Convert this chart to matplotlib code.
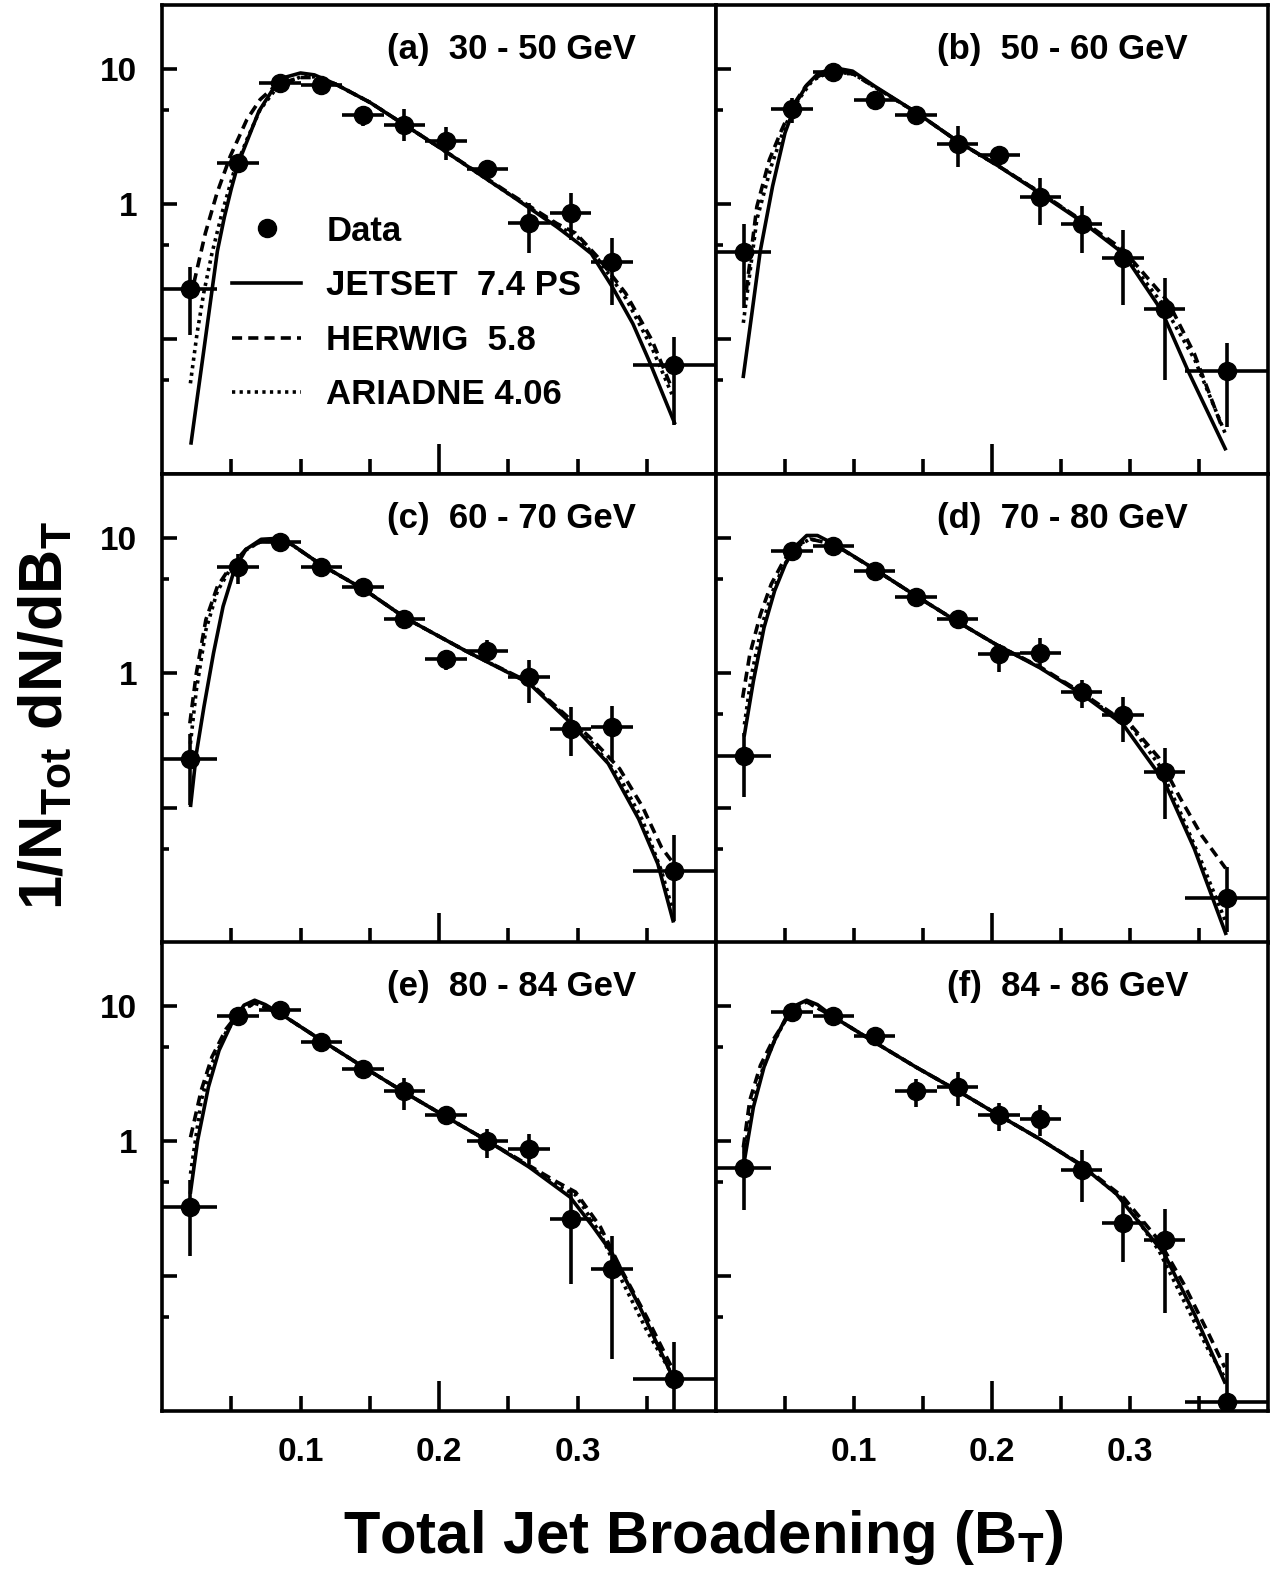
import numpy as np
import matplotlib
matplotlib.use('Agg')
import matplotlib.pyplot as plt
from matplotlib.lines import Line2D
from matplotlib.ticker import FixedLocator, FixedFormatter, NullFormatter

plt.rcParams['font.family'] = ['Liberation Sans', 'DejaVu Sans']
plt.rcParams['font.weight'] = 'bold'
plt.rcParams['mathtext.fontset'] = 'custom'
plt.rcParams['mathtext.rm'] = 'Liberation Sans:bold'
plt.rcParams['mathtext.it'] = 'Liberation Sans:bold'
plt.rcParams['mathtext.bf'] = 'Liberation Sans:bold'

# bin centres / half widths of B_T
bt_centres = [0.02, 0.055, 0.085, 0.115, 0.145, 0.175, 0.205, 0.235, 0.265, 0.295, 0.325, 0.37]
bt_half = [0.02, 0.015, 0.015, 0.015, 0.015, 0.015, 0.015, 0.015, 0.015, 0.015, 0.015, 0.03]

titles = ['(a)  30 - 50 GeV', '(b)  50 - 60 GeV', '(c)  60 - 70 GeV',
          '(d)  70 - 80 GeV', '(e)  80 - 84 GeV', '(f)  84 - 86 GeV']

# ---- (a) 30-50 GeV
a_data = [0.235, 2.02, 7.96, 7.7, 4.55, 3.9, 2.93, 1.84, 0.73, 0.86, 0.376, 0.064]
a_lo = [0.107, 1.8, 7.3, 7.1, 3.79, 2.93, 2.14, 1.57, 0.435, 0.545, 0.179, 0.023]
a_hi = [0.345, 2.3, 8.7, 8.3, 5.33, 5.04, 3.71, 2.14, 1.03, 1.22, 0.563, 0.104]
a_jet_x = [0.021, 0.025, 0.030, 0.035, 0.040, 0.045, 0.050, 0.055, 0.060, 0.070, 0.080, 0.090, 0.100,
           0.110, 0.125, 0.150, 0.200, 0.250, 0.285, 0.300, 0.310, 0.325, 0.340, 0.352, 0.370]
a_jet = [0.017, 0.034, 0.080, 0.19, 0.45, 0.80, 1.3, 2.0, 2.7, 4.9, 7.1, 8.8, 9.4,
         9.1, 7.8, 5.7, 2.65, 1.2, 0.68, 0.52, 0.43, 0.245, 0.13, 0.068, 0.024]
a_her_x = [0.023, 0.0313, 0.0397, 0.0493, 0.0613, 0.0709, 0.0829, 0.0996, 0.110, 0.125, 0.150,
           0.200, 0.250, 0.285, 0.2987, 0.3142, 0.3347, 0.3538, 0.3682]
a_her = [0.26, 0.61, 1.21, 2.27, 4.25, 5.98, 7.73, 8.7, 8.7, 7.8, 5.7,
         2.65, 1.22, 0.72, 0.61, 0.41, 0.219, 0.098, 0.043]
a_ari_x = [0.0205, 0.0253, 0.0301, 0.0361, 0.0433, 0.0517, 0.0613, 0.0709, 0.0829, 0.100, 0.110,
           0.125, 0.150, 0.200, 0.250, 0.285, 0.300, 0.315, 0.335, 0.354, 0.3682]
a_ari = [0.047, 0.110, 0.219, 0.434, 0.86, 1.71, 3.02, 5.04, 7.3, 8.8, 8.8,
         7.8, 5.7, 2.65, 1.2, 0.70, 0.57, 0.39, 0.2, 0.085, 0.039]

# ---- (b) 50-60 GeV
b_data = [0.445, 5.05, 9.55, 5.92, 4.57, 2.82, 2.30, 1.13, 0.713, 0.398, 0.167, 0.0578]
b_lo = [0.169, 4.0, 8.6, 5.4, 3.9, 1.88, 1.95, 0.70, 0.433, 0.179, 0.0496, 0.0223]
b_hi = [0.716, 6.15, 10.5, 6.5, 5.3, 3.79, 2.7, 1.57, 0.975, 0.64, 0.286, 0.093]
b_jet_x = [0.0198, 0.026, 0.032, 0.041, 0.050, 0.058, 0.066, 0.0735, 0.085, 0.099, 0.115, 0.145,
           0.175, 0.205, 0.2345, 0.265, 0.295, 0.3227, 0.3418, 0.369]
b_jet = [0.053, 0.155, 0.445, 1.36, 3.38, 5.65, 7.7, 9.2, 10.3, 9.7, 7.5, 4.8,
         2.93, 1.91, 1.21, 0.745, 0.433, 0.164, 0.059, 0.0154]
b_her_x = [0.022, 0.0296, 0.0387, 0.0477, 0.0554, 0.065, 0.075, 0.085, 0.099, 0.115, 0.145,
           0.175, 0.205, 0.235, 0.265, 0.295, 0.3275, 0.3466, 0.3657]
b_her = [0.231, 0.96, 2.14, 3.58, 5.33, 7.5, 9.0, 9.3, 9.3, 7.4, 4.8,
         2.93, 1.91, 1.22, 0.76, 0.46, 0.19, 0.078, 0.0236]
b_ari_x = [0.0198, 0.0296, 0.040, 0.050, 0.060, 0.070, 0.080, 0.090, 0.100, 0.115, 0.145,
           0.175, 0.205, 0.235, 0.265, 0.295, 0.325, 0.347, 0.369]
b_ari = [0.132, 0.77, 1.91, 3.8, 6.0, 8.3, 9.3, 9.5, 9.2, 7.4, 4.8,
         2.93, 1.91, 1.22, 0.75, 0.44, 0.174, 0.07, 0.02]

# ---- (c) 60-70 GeV
c_data = [0.23, 6.15, 9.44, 6.15, 4.36, 2.54, 1.28, 1.45, 0.933, 0.383, 0.401, 0.034]
c_lo = [0.105, 4.62, 8.7, 5.7, 4.0, 2.35, 1.05, 1.19, 0.605, 0.243, 0.226, 0.0146]
c_hi = [0.357, 7.6, 10.2, 6.6, 4.8, 2.75, 1.49, 1.77, 1.26, 0.565, 0.571, 0.0627]
c_jet_x = [0.0207, 0.0248, 0.0303, 0.0372, 0.0441, 0.0523, 0.0606, 0.0716, 0.0798, 0.0936, 0.1156,
           0.146, 0.1757, 0.220, 0.265, 0.2954, 0.3222, 0.3442, 0.358, 0.369]
c_jet = [0.105, 0.254, 0.565, 1.41, 3.13, 5.87, 8.28, 9.84, 9.95, 9.02, 6.3,
         4.17, 2.57, 1.45, 0.843, 0.425, 0.214, 0.083, 0.0386, 0.0146]
c_her_x = [0.0201, 0.0248, 0.0317, 0.040, 0.0496, 0.0606, 0.0716, 0.085, 0.0936, 0.1156, 0.146,
           0.1757, 0.220, 0.265, 0.2954, 0.3111, 0.3304, 0.347, 0.3607, 0.3676]
c_her = [0.425, 1.0, 2.5, 4.4, 6.2, 8.3, 9.5, 9.5, 9.0, 6.3, 4.17,
         2.57, 1.45, 0.86, 0.45, 0.319, 0.196, 0.102, 0.051, 0.041]
c_ari_x = [0.0205, 0.0248, 0.0317, 0.040, 0.0496, 0.0606, 0.0716, 0.085, 0.0936, 0.1156, 0.146,
           0.1757, 0.220, 0.265, 0.2954, 0.3111, 0.3304, 0.347, 0.3607, 0.3684]
c_ari = [0.30, 0.75, 2.1, 4.06, 6.0, 8.2, 9.5, 9.5, 9.0, 6.3, 4.17,
         2.57, 1.45, 0.85, 0.44, 0.30, 0.17, 0.081, 0.034, 0.018]

# ---- (d) 70-80 GeV
d_data = [0.242, 8.09, 8.82, 5.75, 3.68, 2.51, 1.38, 1.42, 0.728, 0.494, 0.184, 0.0217]
d_lo = [0.12, 7.5, 8.2, 5.3, 3.4, 2.3, 1.03, 1.10, 0.553, 0.31, 0.083, 0.0121]
d_hi = [0.361, 8.7, 9.5, 6.2, 4.0, 2.75, 1.64, 1.84, 0.885, 0.665, 0.279, 0.0368]
d_jet_x = [0.0206, 0.0271, 0.0348, 0.0425, 0.0503, 0.058, 0.0657, 0.0735, 0.0856, 0.1147, 0.1448,
           0.1747, 0.2049, 0.2345, 0.2647, 0.295, 0.3247, 0.3466, 0.3693]
d_jet = [0.35, 0.875, 2.18, 4.09, 6.44, 8.82, 10.5, 10.5, 9.07, 5.92, 3.75,
         2.42, 1.59, 1.10, 0.705, 0.417, 0.158, 0.05, 0.0118]
d_her_x = [0.0193, 0.0245, 0.0322, 0.040, 0.049, 0.058, 0.068, 0.0856, 0.1147, 0.1448, 0.1747,
           0.2049, 0.2345, 0.2647, 0.2875, 0.3003, 0.3209, 0.3363, 0.3518, 0.3693]
d_her = [0.658, 1.38, 2.73, 4.57, 6.82, 8.8, 9.9, 9.0, 5.92, 3.75, 2.42,
         1.59, 1.12, 0.72, 0.50, 0.417, 0.236, 0.119, 0.063, 0.0358]
d_ari_x = [0.0206, 0.0258, 0.0335, 0.0412, 0.049, 0.058, 0.068, 0.0856, 0.1147, 0.1448, 0.1747,
           0.2049, 0.2345, 0.2647, 0.2875, 0.3003, 0.3209, 0.3363, 0.3518, 0.3693]
d_ari = [0.417, 0.98, 2.31, 4.09, 6.27, 8.57, 9.9, 9.0, 5.92, 3.75, 2.42,
         1.59, 1.11, 0.71, 0.49, 0.41, 0.21, 0.094, 0.040, 0.0144]

# ---- (e) 80-84 GeV
e_data = [0.325, 8.43, 9.45, 5.44, 3.45, 2.34, 1.56, 1.0, 0.88, 0.266, 0.113, 0.0173]
e_lo = [0.14, 7.8, 8.8, 4.6, 3.2, 1.71, 1.45, 0.755, 0.68, 0.0877, 0.0244, 0.0095]
e_hi = [0.513, 9.1, 10.1, 6.0, 3.7, 2.96, 1.68, 1.24, 1.14, 0.431, 0.2, 0.0324]
e_jet_x = [0.0206, 0.0257, 0.0335, 0.0412, 0.0502, 0.0592, 0.0669, 0.0746, 0.0855, 0.1151, 0.1454,
           0.1758, 0.2054, 0.2355, 0.2651, 0.2947, 0.3114, 0.3251, 0.345, 0.3676]
e_jet = [0.42, 1.01, 2.52, 4.72, 7.43, 10.2, 11.1, 10.3, 8.83, 5.6, 3.55,
         2.28, 1.51, 1.0, 0.643, 0.385, 0.231, 0.147, 0.059, 0.0189]
e_her_x = [0.0206, 0.0283, 0.036, 0.0463, 0.0566, 0.0669, 0.0855, 0.1151, 0.1454, 0.1758, 0.2054,
           0.2355, 0.2651, 0.2850, 0.2986, 0.3166, 0.332, 0.350, 0.368]
e_her = [1.07, 2.38, 4.2, 6.8, 9.3, 10.6, 8.83, 5.6, 3.55, 2.28, 1.51,
         1.0, 0.66, 0.50, 0.42, 0.231, 0.110, 0.0497, 0.0211]
e_ari_x = [0.0206, 0.0283, 0.036, 0.0463, 0.0566, 0.0669, 0.0855, 0.1151, 0.1454, 0.1758, 0.2054,
           0.2355, 0.2651, 0.2850, 0.2986, 0.3166, 0.332, 0.350, 0.368]
e_ari = [0.574, 2.0, 3.76, 6.46, 9.08, 10.6, 8.83, 5.6, 3.55, 2.28, 1.51,
         1.0, 0.65, 0.47, 0.40, 0.206, 0.093, 0.0395, 0.0189]

# ---- (f) 84-86 GeV
f_data = [0.635, 9.08, 8.43, 5.99, 2.35, 2.52, 1.56, 1.47, 0.615, 0.247, 0.186, 0.0117]
f_lo = [0.31, 8.4, 7.8, 5.5, 1.79, 1.81, 1.19, 1.10, 0.354, 0.127, 0.0532, 0.0095]
f_hi = [0.906, 9.8, 9.1, 6.5, 2.91, 3.26, 1.92, 1.85, 0.855, 0.364, 0.315, 0.0269]
f_jet_x = [0.0206, 0.0271, 0.0348, 0.0425, 0.0503, 0.058, 0.0657, 0.0735, 0.0856, 0.1147, 0.1448,
           0.1747, 0.2049, 0.2345, 0.2647, 0.29, 0.3054, 0.3247, 0.3466, 0.3686]
f_jet = [0.72, 1.79, 3.55, 5.6, 8.1, 10.2, 11.1, 10.3, 8.3, 5.44, 3.55,
         2.38, 1.56, 1.04, 0.662, 0.408, 0.259, 0.147, 0.0526, 0.0164]
f_her_x = [0.0198, 0.0245, 0.0322, 0.0412, 0.0503, 0.058, 0.0657, 0.0856, 0.1147, 0.1448, 0.1747,
           0.2049, 0.2345, 0.2647, 0.2951, 0.3209, 0.3389, 0.357, 0.3686]
f_her = [0.9, 2.01, 3.65, 5.6, 7.87, 9.9, 10.8, 8.3, 5.44, 3.55, 2.38,
         1.56, 1.04, 0.67, 0.385, 0.184, 0.0877, 0.0373, 0.0211]
f_ari_x = [0.0206, 0.0258, 0.0335, 0.0419, 0.0503, 0.058, 0.0657, 0.0856, 0.1147, 0.1448, 0.1747,
           0.2049, 0.2345, 0.2647, 0.2951, 0.3209, 0.3389, 0.357, 0.3686]
f_ari = [0.81, 1.79, 3.35, 5.43, 7.95, 9.9, 10.8, 8.3, 5.44, 3.55, 2.38,
         1.56, 1.04, 0.665, 0.37, 0.155, 0.066, 0.0281, 0.0178]

panels = [
    (a_data, a_lo, a_hi, a_jet_x, a_jet, a_her_x, a_her, a_ari_x, a_ari),
    (b_data, b_lo, b_hi, b_jet_x, b_jet, b_her_x, b_her, b_ari_x, b_ari),
    (c_data, c_lo, c_hi, c_jet_x, c_jet, c_her_x, c_her, c_ari_x, c_ari),
    (d_data, d_lo, d_hi, d_jet_x, d_jet, d_her_x, d_her, d_ari_x, d_ari),
    (e_data, e_lo, e_hi, e_jet_x, e_jet, e_her_x, e_her, e_ari_x, e_ari),
    (f_data, f_lo, f_hi, f_jet_x, f_jet, f_her_x, f_her, f_ari_x, f_ari),
]

LW = 2.6
MS = 13
DASHED = (0, (2.8, 1.7))
DOTTED = (0, (0.9, 1.2))

W, H = 1272, 1572
fig = plt.figure(figsize=(W / 100, H / 100), dpi=100)

col_left = [162, 716]
col_width = [554, 552]
row_top = [5, 474, 942]
row_h = 469


def style_axes(ax, col, row):
    ax.set_yscale('log')
    ax.set_xlim(0, 0.4)
    ax.set_ylim(0.01, 30)
    for sp in ax.spines.values():
        sp.set_linewidth(LW)
    # y ticks: decades long, the 5's short
    ax.yaxis.set_major_locator(FixedLocator([0.1, 1, 10]))
    ax.yaxis.set_minor_locator(FixedLocator([0.05, 0.5, 5]))
    ax.yaxis.set_minor_formatter(NullFormatter())
    ax.yaxis.set_major_formatter(FixedFormatter(['', '1', '10'] if col == 0 else ['', '', '']))
    # x ticks: only 0.2 is long, everything else short
    ax.xaxis.set_major_locator(FixedLocator([0.2]))
    ax.xaxis.set_minor_locator(FixedLocator([0.05, 0.1, 0.15, 0.25, 0.3, 0.35]))
    if row == 2:
        ax.xaxis.set_major_formatter(FixedFormatter(['0.2']))
        ax.xaxis.set_minor_formatter(FixedFormatter(['', '0.1', '', '', '0.3', '']))
    else:
        ax.xaxis.set_major_formatter(NullFormatter())
        ax.xaxis.set_minor_formatter(NullFormatter())
    ax.tick_params(which='both', direction='in', width=LW, top=False, right=False,
                   labelsize=24)
    ax.tick_params(axis='y', which='major', length=10.8, pad=18)
    ax.tick_params(axis='y', which='minor', length=5.2)
    ax.tick_params(axis='x', which='major', length=21.6, pad=19)
    ax.tick_params(axis='x', which='minor', length=10.8, pad=19)


axes = []
for i, (dat, lo, hi, jx, jy, hx, hy, ax_, ay) in enumerate(panels):
    row, col = divmod(i, 2)
    left = col_left[col] / W
    bottom = 1 - (row_top[row] + row_h) / H
    ax = fig.add_axes([left, bottom, col_width[col] / W, row_h / H])
    style_axes(ax, col, row)

    ax.plot(jx, jy, '-', color='black', lw=LW, zorder=2)
    ax.plot(hx, hy, color='black', lw=LW, linestyle=DASHED, zorder=2)
    ax.plot(ax_, ay, color='black', lw=LW, linestyle=DOTTED, zorder=2)

    y = np.array(dat)
    yerr = [y - np.array(lo), np.array(hi) - y]
    ax.errorbar(bt_centres, y, xerr=bt_half, yerr=yerr, fmt='o', color='black',
                ms=MS, elinewidth=LW, capsize=0, zorder=3)

    ax.text(0.855, 0.905, titles[i], transform=ax.transAxes, ha='right', va='center',
            fontsize=25, fontweight='bold')
    axes.append(ax)

# legend in panel (a)
handles = [Line2D([], [], ls='none', marker='o', color='black', ms=MS),
           Line2D([], [], color='black', lw=LW),
           Line2D([], [], color='black', lw=LW, linestyle=DASHED),
           Line2D([], [], color='black', lw=LW, linestyle=DOTTED)]
labels = ['Data', 'JETSET  7.4 PS', 'HERWIG  5.8', 'ARIADNE 4.06']
axes[0].legend(handles, labels, loc='upper left', bbox_to_anchor=(0.126, 0.553),
               frameon=False, fontsize=25, handlelength=2.0, handletextpad=0.72,
               labelspacing=0.62, borderpad=0, borderaxespad=0)

fig.text(46 / W, 1 - 716 / H, r'1/N$_{\mathrm{Tot}}$ dN/dB$_{\mathrm{T}}$', rotation=90,
         ha='center', va='center', fontsize=44, fontweight='bold')
fig.text(703 / W, 1 - 1553 / H, r'Total Jet Broadening (B$_{\mathrm{T}}$)', ha='center',
         va='baseline', fontsize=43, fontweight='bold')

fig.savefig('out.png', dpi=100)
